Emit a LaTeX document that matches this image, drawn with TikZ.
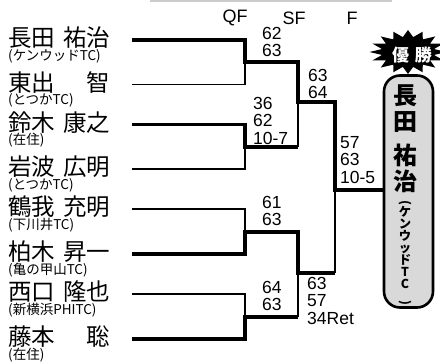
\documentclass[tikz,border=0pt]{standalone}
\usepackage{fontspec}
\setmainfont{Liberation Sans}
\newfontfamily\jp{Noto Sans CJK JP}
\usetikzlibrary{shapes.geometric}
\tikzset{
  win/.style={line width=3.2pt},
  lose/.style={line width=1.1pt},
  pname/.style={anchor=west, inner sep=0pt, font=\jp\fontsize{23.5}{23.5}\selectfont},
  pclub/.style={anchor=west, inner sep=0pt, font=\jp\fontsize{13.5}{13.5}\selectfont},
  score/.style={anchor=north west, inner sep=0pt, align=left, font=\fontsize{17.5}{17.5}\selectfont},
  head/.style={inner sep=0pt, font=\fontsize{18}{18}\selectfont},
  champbox/.style={draw, line width=2.6pt, fill=black!15, rounded corners=16pt, minimum width=49pt, minimum height=232pt, inner sep=0pt},
}
\begin{document}
\begin{tikzpicture}[x=1pt,y=-1pt]
\useasboundingbox (0,0) rectangle (440,362);
\draw[black!20, line width=1.2pt] (150,1) -- (392,1);

% headers
\node[head] (hqf) at (235,18) {QF};
\node[head] (hsf) at (294,18) {SF};
\node[head] (hf)  at (352,18) {F};

% players
\foreach \i/\y/\fam/\giv/\club in {
  1/40/長田/祐治/(ケンウッドTC),
  2/84.5/東出/智/(とつかTC),
  3/124.5/鈴木/康之/(在住),
  4/169/岩波/広明/(とつかTC),
  5/209/鶴我/充明/(下川井TC),
  6/254/柏木/昇一/(亀の甲山TC),
  7/294/西口/隆也/(新横浜PHITC),
  8/339/藤本/聡/(在住)}{
  \node[pname] (n\i) at (8,\y-2) {\makebox[102pt]{\fam\hfill\giv}};
  \node[pclub] (c\i) at (8,\y+16) {\club};
  \coordinate (a\i) at (132,\y);
}

% junctions
\coordinate (m1) at (245,62);
\coordinate (m2) at (245,147);
\coordinate (m3) at (245,232);
\coordinate (m4) at (245,317);
\coordinate (s1) at (298,102);
\coordinate (s2) at (298,273);
\coordinate (f)  at (335,190);

% champion badge and box
\node[star, star points=16, star point ratio=1.45, fill=black, minimum size=44pt, inner sep=0pt, xscale=1.75, transform shape] (burst) at (408,52) {};
\node[font=\jp\bfseries\fontsize{17}{17}\selectfont, text=white, inner sep=0pt] (yusho) at (412,55) {優\hspace{6pt}勝};
\node[champbox] (champ) at (408.5,191.5) {};
\node[anchor=north, inner sep=0pt, align=center, font=\jp\bfseries\fontsize{24}{25.5}\selectfont] (cname) at (405,85) {長\\田\\[9pt]祐\\治};
\node[anchor=north, inner sep=0pt, align=center, font=\jp\bfseries\fontsize{12.3}{12}\selectfont] (cclub) at (405,200) {\rotatebox{-90}{(}\\ケ\\ン\\ウ\\ッ\\ド\\T\\C\\\rotatebox{-90}{)}};

% losers (thin)
\draw[lose] (a2) -| (m1);
\draw[lose] (a4) -| (m2);
\draw[lose] (a5) -| (m3);
\draw[lose] (a7) -| (m4);
\draw[lose] (m2 -| s1) -- (s1);
\draw[lose] (m4 -| s2) -- (s2);
\draw[lose] (s2 -| f) -- (f);

% winners (thick)
\draw[win] (a1) -| (m1) -| (s1) -| (f) -- (f -| champ.west);
\draw[win] (a3) -| (m2) -- (m2 -| s1);
\draw[win] (a6) -| (m3) -| (s2) -- (s2 -| f);
\draw[win] (a8) -| (m4) -- (m4 -| s2);

% scores
\node[score] (sc1) at (262,27) {62\\63};
\node[score] (sc2) at (253,97) {36\\62\\10-7};
\node[score] (sc3) at (308,69) {63\\64};
\node[score] (sc4) at (340,136) {57\\63\\10-5};
\node[score] (sc5) at (262,196) {61\\63};
\node[score] (sc6) at (262,281) {64\\63};
\node[score] (sc7) at (307,277) {63\\57\\34Ret};
\end{tikzpicture}
\end{document}
